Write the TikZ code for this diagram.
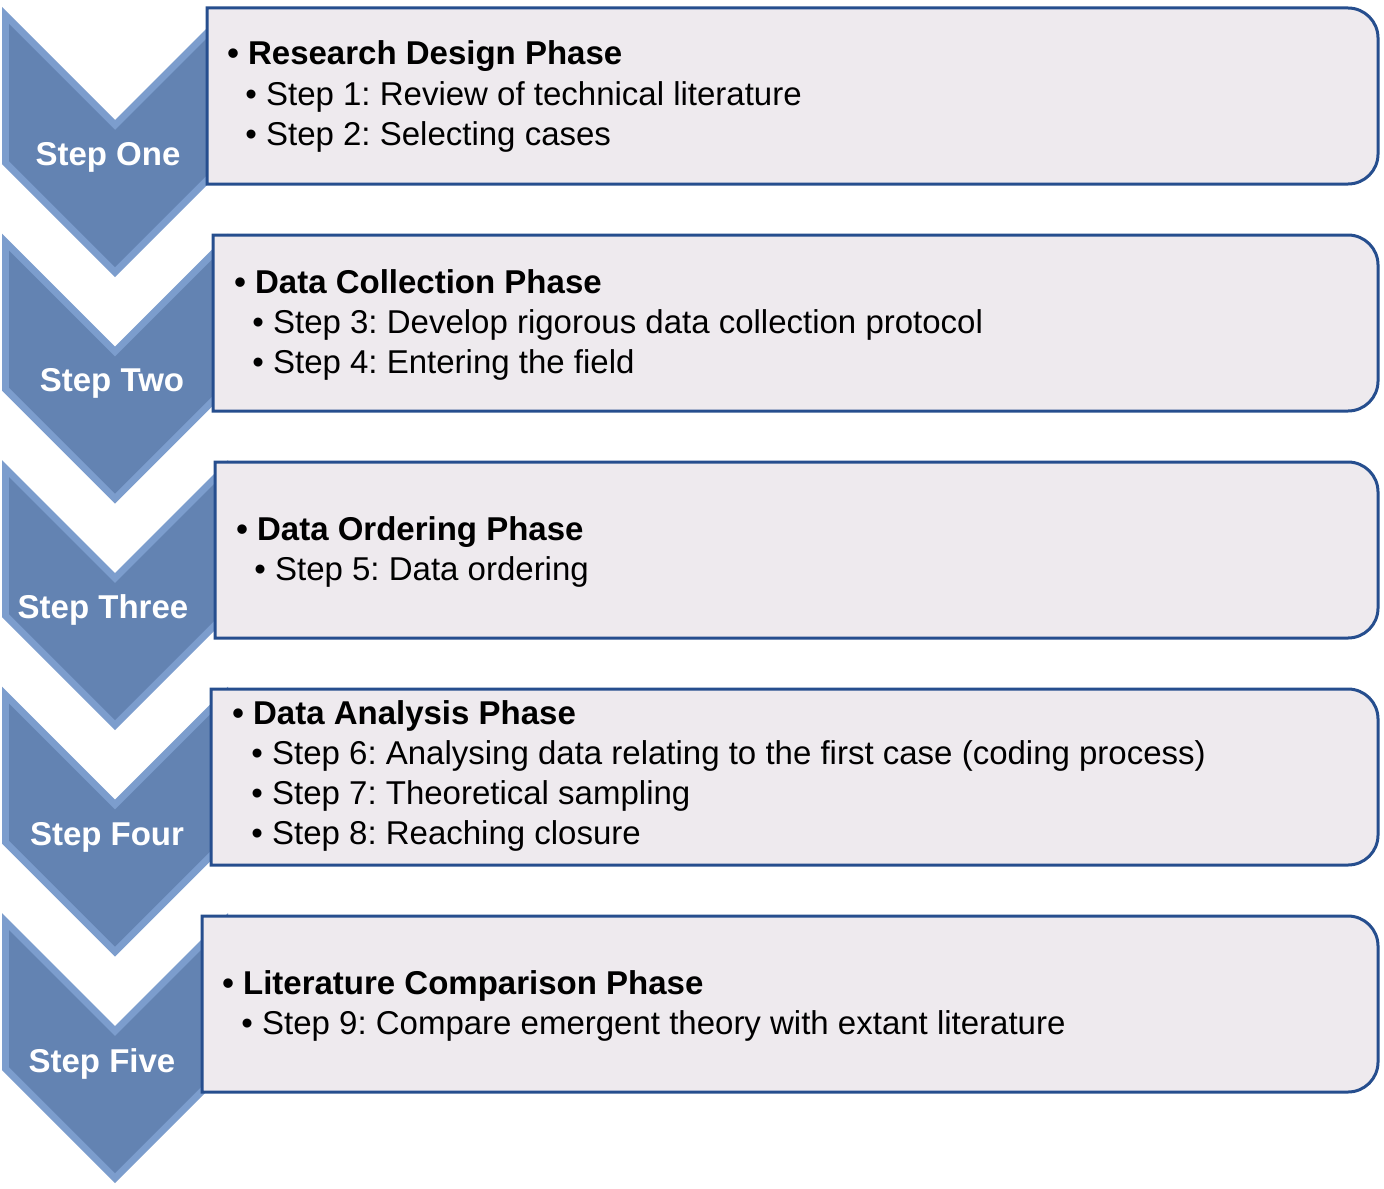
\documentclass[tikz,border=0pt]{standalone}
\usepackage{fontspec}
\setmainfont{Liberation Sans}
\usepackage{xcolor}
\frenchspacing

\definecolor{chevlight}{RGB}{124,157,205}
\definecolor{chevmain}{RGB}{99,131,178}
\definecolor{boxline}{RGB}{38,78,142}
\definecolor{boxfill}{RGB}{238,234,238}

\begin{document}
\begin{tikzpicture}[x=0.5pt,y=0.5pt,yscale=-1,xscale=1,
  chevout/.style={fill=chevlight,draw=none},
  chevin/.style={fill=chevmain,draw=none},
  phasebox/.style={draw=boxline,line width=1.5pt,fill=boxfill},
  steplabel/.style={text=white,font=\fontsize{16.5}{20}\selectfont\bfseries,inner sep=0},
  headtxt/.style={anchor=base west,inner sep=0,font=\fontsize{16.5}{20}\selectfont\bfseries},
  itemtxt/.style={anchor=base west,inner sep=0,font=\fontsize{16.5}{20}\selectfont}]
%set diagram left start at 0, and has height of 1188
\useasboundingbox (0,0) rectangle (1384,1188);

%Shape: Chevron [id:chevOne]
\draw [chevout] (2,7) -- (115,120) -- (228,7) -- (228,164) -- (115,277) -- (2,164) -- cycle ;
\draw [chevin] (9,24) -- (115,130) -- (221,24) -- (221,161) -- (115,267) -- (9,161) -- cycle ;
%Shape: Chevron [id:chevTwo]
\draw [chevout] (2,233.5) -- (115,346.5) -- (228,233.5) -- (228,390.5) -- (115,503.5) -- (2,390.5) -- cycle ;
\draw [chevin] (9,250.5) -- (115,356.5) -- (221,250.5) -- (221,387.5) -- (115,493.5) -- (9,387.5) -- cycle ;
%Shape: Chevron [id:chevThree]
\draw [chevout] (2,460) -- (115,573) -- (228,460) -- (228,617) -- (115,730) -- (2,617) -- cycle ;
\draw [chevin] (9,477) -- (115,583) -- (221,477) -- (221,614) -- (115,720) -- (9,614) -- cycle ;
%Shape: Chevron [id:chevFour]
\draw [chevout] (2,686.5) -- (115,799.5) -- (228,686.5) -- (228,843.5) -- (115,956.5) -- (2,843.5) -- cycle ;
\draw [chevin] (9,703.5) -- (115,809.5) -- (221,703.5) -- (221,840.5) -- (115,946.5) -- (9,840.5) -- cycle ;
%Shape: Chevron [id:chevFive]
\draw [chevout] (2,913) -- (115,1026) -- (228,913) -- (228,1070) -- (115,1183) -- (2,1070) -- cycle ;
\draw [chevin] (9,930) -- (115,1036) -- (221,930) -- (221,1067) -- (115,1173) -- (9,1067) -- cycle ;

%Shape: Rectangle [id:boxOne]
\draw [phasebox] (207,8) -- (1348,8) arc (-90:0:30) -- (1378,154) arc (0:90:30) -- (207,184) -- cycle ;
%Shape: Rectangle [id:boxTwo]
\draw [phasebox] (213,235) -- (1348,235) arc (-90:0:30) -- (1378,381) arc (0:90:30) -- (213,411) -- cycle ;
%Shape: Rectangle [id:boxThree]
\draw [phasebox] (215,462) -- (1348,462) arc (-90:0:30) -- (1378,608) arc (0:90:30) -- (215,638) -- cycle ;
%Shape: Rectangle [id:boxFour]
\draw [phasebox] (211,689) -- (1348,689) arc (-90:0:30) -- (1378,835) arc (0:90:30) -- (211,865) -- cycle ;
%Shape: Rectangle [id:boxFive]
\draw [phasebox] (202,916) -- (1348,916) arc (-90:0:30) -- (1378,1062) arc (0:90:30) -- (202,1092) -- cycle ;

% Text Node
\draw (108,157) node [steplabel] (stepone) {Step One};
% Text Node
\draw (112,383) node [steplabel] (steptwo) {Step Two};
% Text Node
\draw (103,610) node [steplabel] (stepthree) {Step Three};
% Text Node
\draw (107,837) node [steplabel] (stepfour) {Step Four};
% Text Node
\draw (102,1064) node [steplabel] (stepfive) {Step Five};

% Text Node
\draw (227,65) node [headtxt] (designhd) {• Research Design Phase};
% Text Node
\draw (245,105) node [itemtxt] (stepa) {• Step 1: Review of technical literature};
% Text Node
\draw (245,145) node [itemtxt] (stepb) {• Step 2: Selecting cases};
% Text Node
\draw (234,293) node [headtxt] (collecthd) {• Data Collection Phase};
% Text Node
\draw (252,333) node [itemtxt] (stepc) {• Step 3: Develop rigorous data collection protocol};
% Text Node
\draw (252,373) node [itemtxt] (stepd) {• Step 4: Entering the field};
% Text Node
\draw (236,540) node [headtxt] (orderhd) {• Data Ordering Phase};
% Text Node
\draw (254,580) node [itemtxt] (stepe) {• Step 5: Data ordering};
% Text Node
\draw (232,724) node [headtxt] (analysehd) {• Data Analysis Phase};
% Text Node
\draw (251,764) node [itemtxt] (stepf) {• Step 6: Analysing data relating to the first case (coding process)};
% Text Node
\draw (251,804) node [itemtxt] (stepg) {• Step 7: Theoretical sampling};
% Text Node
\draw (251,844) node [itemtxt] (steph) {• Step 8: Reaching closure};
% Text Node
\draw (222,994) node [headtxt] (comparehd) {• Literature Comparison Phase};
% Text Node
\draw (241,1034) node [itemtxt] (stepi) {• Step 9: Compare emergent theory with extant literature};

\end{tikzpicture}
\end{document}
